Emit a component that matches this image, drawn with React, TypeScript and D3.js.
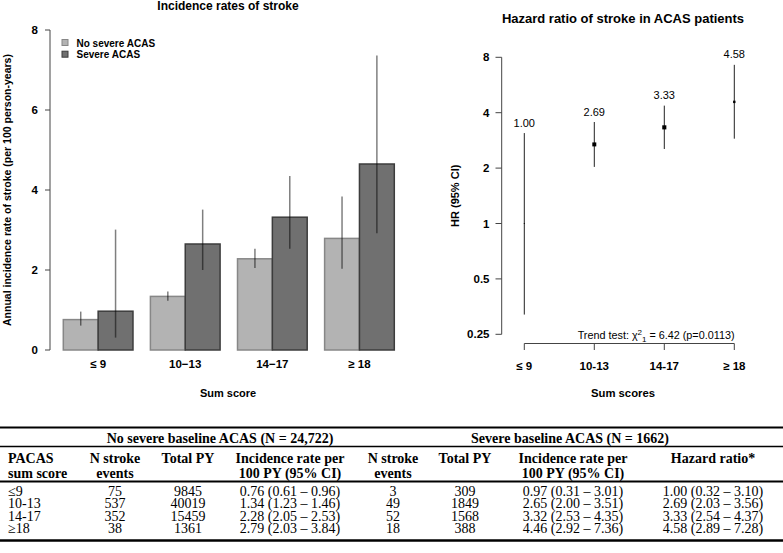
import React from "react";
import * as d3 from "d3";

// ---------- data ----------
const categoriesLeft = ["≤ 9", "10−13", "14−17", "≥ 18"];
const categoriesRight = ["≤ 9", "10-13", "14-17", "≥ 18"];
const seriesNames = ["No severe ACAS", "Severe ACAS"];
const rateNoSevere = [0.76, 1.34, 2.28, 2.79];
const lowerNoSevere = [0.61, 1.23, 2.05, 2.03];
const upperNoSevere = [0.96, 1.46, 2.53, 3.84];
const rateSevere = [0.97, 2.65, 3.32, 4.65];
const lowerSevere = [0.31, 2.0, 2.53, 2.92];
const upperSevere = [3.01, 3.51, 4.35, 7.36];
const leftYTicks = [0, 2, 4, 6, 8];

const hr = [1.0, 2.69, 3.33, 4.58];
const hrLower = [0.32, 2.03, 2.54, 2.89];
const hrUpper = [3.1, 3.56, 4.37, 7.28];
const hrLabels = ["1.00", "2.69", "3.33", "4.58"];
const rightYTicks = [0.25, 0.5, 1, 2, 4, 8];
const rightYTickLabels = ["0.25", "0.5", "1", "2", "4", "8"];

const tableRowLabels = ["≤9", "10-13", "14-17", "≥18"];
const nStrokeNo = ["75", "537", "352", "38"];
const totalPYNo = ["9845", "40019", "15459", "1361"];
const irNo = ["0.76 (0.61 – 0.96)", "1.34 (1.23 – 1.46)", "2.28 (2.05 – 2.53)", "2.79 (2.03 – 3.84)"];
const nStrokeSev = [3, 49, 52, 18];
const totalPYSev = ["309", "1849", "1568", "388"];
const irSev = ["0.97 (0.31 – 3.01)", "2.65 (2.00 – 3.51)", "3.32 (2.53 – 4.35)", "4.46 (2.92 – 7.36)"];
const hrText = ["1.00 (0.32 – 3.10)", "2.69 (2.03 – 3.56)", "3.33 (2.54 – 4.37)", "4.58 (2.89 – 7.28)"];

// ---------- styles ----------
const SANS = "'Liberation Sans', Arial, Helvetica, sans-serif";
const SERIF = "'Liberation Serif', 'Times New Roman', serif";
const FILLS = ["#b3b3b3", "#707070"];
const STROKES = ["#878787", "#3c3c3c"];

export default function App() {
  // left chart scales
  const x0 = d3.scaleBand<string>().domain(categoriesLeft).range([63.3, 394.3]).paddingInner(0.2).paddingOuter(0);
  const x1 = d3.scaleBand<string>().domain(seriesNames).range([0, x0.bandwidth()]);
  const yL = d3.scaleLinear().domain([0, 8]).range([350, 30]);
  const rates = [rateNoSevere, rateSevere];
  const lows = [lowerNoSevere, lowerSevere];
  const ups = [upperNoSevere, upperSevere];

  // right chart scales
  const xR = d3.scalePoint<string>().domain(categoriesRight).range([524.3, 734.3]);
  const yR = d3.scaleLog().base(2).domain([0.25, 8]).range([334.3, 57.3]);
  const sizeScale = d3.scaleSqrt().domain([0, d3.max(nStrokeSev) as number]).range([0, 4.1]);

  // table layout
  const colLeft = 8;
  const hdrY = [442.5, 462.5, 477.5];
  const rowY = d3.range(tableRowLabels.length).map((i) => 496 + i * 12.25);
  const cols = [
    { x: 115, hdr: ["N stroke", "events"], vals: nStrokeNo },
    { x: 188, hdr: ["Total PY", ""], vals: totalPYNo },
    { x: 290, hdr: ["Incidence rate per", "100 PY (95% CI)"], vals: irNo },
    { x: 393, hdr: ["N stroke", "events"], vals: nStrokeSev.map(String) },
    { x: 465, hdr: ["Total PY", ""], vals: totalPYSev },
    { x: 573, hdr: ["Incidence rate per", "100 PY (95% CI)"], vals: irSev },
    { x: 713, hdr: ["Hazard ratio*", ""], vals: hrText },
  ];

  const TICK = 11.5;

  return (
    <svg width={783} height={553} style={{ position: "absolute", left: 0, top: 0, background: "#fff" }}>
      {/* ---------- LEFT CHART ---------- */}
      <g fontFamily={SANS}>
        <text x={228} y={9.5} textAnchor="middle" fontWeight="bold" fontSize={12}>
          Incidence rates of stroke
        </text>
        {/* y axis */}
        <line x1={50} x2={50} y1={yL(0)} y2={yL(8)} stroke="#444" />
        {leftYTicks.map((t) => (
          <g key={t}>
            <line x1={45} x2={50} y1={yL(t)} y2={yL(t)} stroke="#444" />
            <text x={38} y={yL(t)} dy="0.35em" textAnchor="end" fontWeight="bold" fontSize={TICK}>
              {t}
            </text>
          </g>
        ))}
        <text
          transform={`translate(11,${(yL(0) + yL(8)) / 2}) rotate(-90)`}
          textAnchor="middle"
          fontWeight="bold"
          fontSize={10.5}
        >
          Annual incidence rate of stroke (per 100 person-years)
        </text>
        {/* bars */}
        {categoriesLeft.map((c, i) => (
          <g key={c} transform={`translate(${x0(c)},0)`}>
            {seriesNames.map((s, k) => (
              <rect
                key={s}
                x={x1(s)}
                y={yL(rates[k][i])}
                width={x1.bandwidth()}
                height={yL(0) - yL(rates[k][i])}
                fill={FILLS[k]}
                stroke={STROKES[k]}
                strokeWidth={1.5}
              />
            ))}
          </g>
        ))}
        {/* error bars */}
        {categoriesLeft.map((c, i) =>
          seriesNames.map((s, k) => {
            const cx = (x0(c) as number) + (x1(s) as number) + x1.bandwidth() / 2;
            return (
              <line
                key={c + s}
                x1={cx}
                x2={cx}
                y1={yL(lows[k][i])}
                y2={yL(ups[k][i])}
                stroke="#000"
                strokeOpacity={0.5}
                strokeWidth={1.5}
              />
            );
          })
        )}
        {/* x labels */}
        {categoriesLeft.map((c) => (
          <text key={c} x={(x0(c) as number) + x0.bandwidth() / 2} y={367.5} textAnchor="middle" fontWeight="bold" fontSize={TICK}>
            {c}
          </text>
        ))}
        <text x={228} y={397} textAnchor="middle" fontWeight="bold" fontSize={11}>
          Sum score
        </text>
        {/* legend */}
        {seriesNames.map((s, k) => (
          <g key={s}>
            <rect x={62} y={39.5 + k * 11.7} width={6} height={6} fill={FILLS[k]} stroke={STROKES[k]} strokeWidth={1} />
            <text x={76.5} y={46.5 + k * 11.7} fontWeight="bold" fontSize={10}>
              {s}
            </text>
          </g>
        ))}
      </g>

      {/* ---------- RIGHT CHART ---------- */}
      <g fontFamily={SANS}>
        <text x={623} y={23} textAnchor="middle" fontWeight="bold" fontSize={13}>
          Hazard ratio of stroke in ACAS patients
        </text>
        <line x1={501.7} x2={501.7} y1={yR(0.25)} y2={yR(8)} stroke="#444" />
        {rightYTicks.map((t, i) => (
          <g key={t}>
            <line x1={495.5} x2={501.7} y1={yR(t)} y2={yR(t)} stroke="#444" />
            <text x={489.5} y={yR(t)} dy="0.35em" textAnchor="end" fontWeight="bold" fontSize={TICK}>
              {rightYTickLabels[i]}
            </text>
          </g>
        ))}
        <text
          transform={`translate(459,${(yR(0.25) + yR(8)) / 2}) rotate(-90)`}
          textAnchor="middle"
          fontWeight="bold"
          fontSize={11}
        >
          HR (95% CI)
        </text>
        {/* x axis */}
        <line x1={xR(categoriesRight[0])} x2={xR(categoriesRight[3])} y1={343.5} y2={343.5} stroke="#444" />
        {categoriesRight.map((c) => (
          <g key={c}>
            <line x1={xR(c)} x2={xR(c)} y1={343.5} y2={350} stroke="#444" />
            <text x={xR(c)} y={369.5} textAnchor="middle" fontWeight="bold" fontSize={TICK}>
              {c}
            </text>
          </g>
        ))}
        <text x={623} y={396.5} textAnchor="middle" fontWeight="bold" fontSize={11.3}>
          Sum scores
        </text>
        {/* CIs and points */}
        {categoriesRight.map((c, i) => {
          const cx = xR(c) as number;
          const sz = sizeScale(nStrokeSev[i]);
          return (
            <g key={c}>
              <line x1={cx} x2={cx} y1={yR(hrLower[i])} y2={yR(hrUpper[i])} stroke="#222" strokeWidth={1} />
              <rect x={cx - sz / 2} y={yR(hr[i]) - sz / 2} width={sz} height={sz} fill="#000" />
              <text x={cx} y={yR(hrUpper[i]) - 6.5} textAnchor="middle" fontSize={11}>
                {hrLabels[i]}
              </text>
            </g>
          );
        })}
        <text x={734.5} y={339} textAnchor="end" fontSize={10.8}>
          Trend test: χ
          <tspan dy={-4.5} fontSize={8}>2</tspan>
          <tspan dy={7.5} fontSize={8}>1</tspan>
          <tspan dy={-3}> = 6.42 (p=0.0113)</tspan>
        </text>
      </g>

      {/* ---------- TABLE ---------- */}
      <g fontFamily={SERIF} fontSize={14} fill="#000">
        <line x1={0} x2={783} y1={427.5} y2={427.5} stroke="#000" strokeWidth={2} />
        <line x1={0} x2={783} y1={446.5} y2={446.5} stroke="#000" strokeWidth={1.6} />
        <line x1={0} x2={783} y1={481.5} y2={481.5} stroke="#000" strokeWidth={2} />
        <line x1={0} x2={783} y1={540.5} y2={540.5} stroke="#000" strokeWidth={2.6} />
        <text x={220} y={hdrY[0]} textAnchor="middle" fontWeight="bold">
          No severe baseline ACAS (N = 24,722)
        </text>
        <text x={570} y={hdrY[0]} textAnchor="middle" fontWeight="bold">
          Severe baseline ACAS (N = 1662)
        </text>
        <text x={colLeft} y={hdrY[1]} fontWeight="bold">PACAS</text>
        <text x={colLeft} y={hdrY[2]} fontWeight="bold">sum score</text>
        {cols.map((col, j) => (
          <g key={j}>
            <text x={col.x} y={hdrY[1]} textAnchor="middle" fontWeight="bold">{col.hdr[0]}</text>
            {col.hdr[1] && (
              <text x={col.x} y={hdrY[2]} textAnchor="middle" fontWeight="bold">{col.hdr[1]}</text>
            )}
            {col.vals.map((v, i) => (
              <text key={i} x={col.x} y={rowY[i]} textAnchor="middle">{v}</text>
            ))}
          </g>
        ))}
        {tableRowLabels.map((r, i) => (
          <text key={r} x={colLeft} y={rowY[i]}>{r}</text>
        ))}
      </g>
    </svg>
  );
}
